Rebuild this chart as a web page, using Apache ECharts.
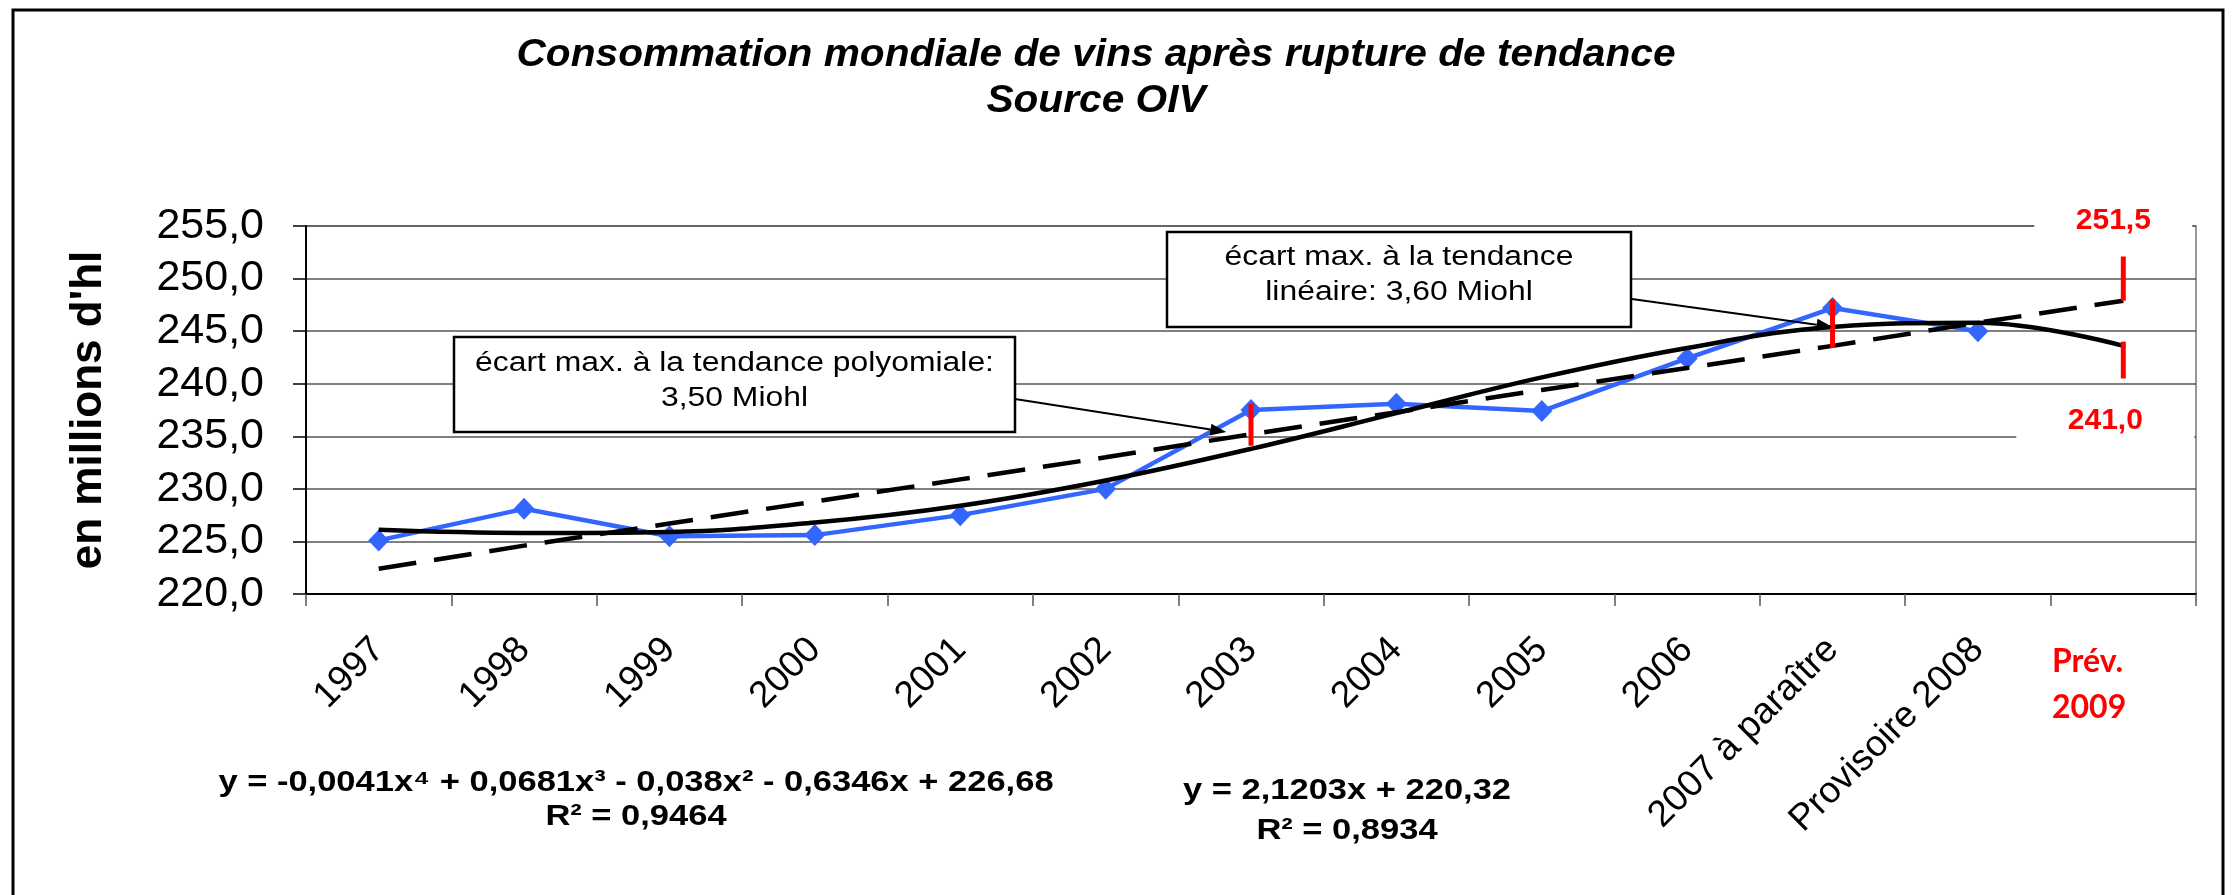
<!DOCTYPE html>
<html>
<head>
<meta charset="utf-8">
<script src="https://cdn.jsdelivr.net/npm/echarts@6/dist/echarts.min.js"></script>
<style>
html,body{margin:0;padding:0;background:#fff;}
#c{width:2235px;height:895px;}
</style>
</head>
<body>
<div id="c"></div>
<script>
// ---- data ----
const categories = ['1997','1998','1999','2000','2001','2002','2003','2004','2005','2006','2007 à paraître','Provisoire 2008','Prév. 2009'];
const consumption = [225.1, 228.1, 225.5, 225.6, 227.5, 230.0, 237.5, 238.1, 237.4, 242.4, 247.2, 245.0, null];
const polyTrend = [226.1, 225.8, 225.9, 226.8, 228.4, 230.8, 233.8, 237.2, 240.6, 243.4, 245.4, 245.8, 243.6];
const linearTrend = [222.4, 224.6, 226.7, 228.8, 230.9, 233.0, 235.2, 237.3, 239.4, 241.5, 243.6, 245.8, 247.9];
const gapIndex = [6, 10, 12, 12];
const gapLow = [234.1, 243.4, 247.9, 240.5];
const gapHigh = [238.1, 248.0, 252.1, 244.0];
const forecastLabels = ['251,5', '241,0'];
const yTickLabels = ['220,0','225,0','230,0','235,0','240,0','245,0','250,0','255,0'];
const titleLines = ['Consommation mondiale de vins après rupture de tendance', 'Source OIV'];
const yAxisTitle = "en millions d'hl";
const polyEq = ['y = -0,0041x⁴ + 0,0681x³ - 0,038x² - 0,6346x + 226,68', 'R² = 0,9464'];
const linEq = ['y = 2,1203x + 220,32', 'R² = 0,8934'];
const note1 = ['écart max. à la tendance polyomiale:', '3,50 Miohl'];
const note2 = ['écart max. à la tendance', 'linéaire: 3,60 Miohl'];

const FONT = '"Liberation Sans", Arial, sans-serif';
const chart = echarts.init(document.getElementById('c'), null, {renderer: 'canvas'});

const option = {
  animation: false,
  backgroundColor: '#fff',
  textStyle: {fontFamily: FONT},
  grid: {left: 306, top: 226, right: 39, bottom: 301, show: true, borderColor: '#777', borderWidth: 1.5, backgroundColor: 'transparent'},
  xAxis: {
    type: 'category', data: categories, boundaryGap: true,
    axisLine: {lineStyle: {color: '#000', width: 2}},
    axisTick: {show: true, length: 12, lineStyle: {color: '#555', width: 1.5}},
    axisLabel: {interval: 0, rotate: 45, margin: 50, fontSize: 37, color: '#000', fontFamily: FONT,
      formatter: (v, i) => i === categories.length - 1 ? '' : v},
    splitLine: {show: false}
  },
  yAxis: {
    type: 'value', min: 220, max: 255, interval: 5,
    axisLine: {show: true, lineStyle: {color: '#000', width: 2}},
    axisTick: {show: true, length: 13, lineStyle: {color: '#000', width: 1.5}},
    axisLabel: {margin: 42, fontSize: 43, color: '#000', fontFamily: FONT,
      formatter: v => yTickLabels[Math.round((v - 220) / 5)]},
    splitLine: {lineStyle: {color: '#555', width: 1.5}}
  },
  series: [
    {type: 'line', name: 'conso', data: consumption, symbol: 'diamond', symbolSize: [21, 22],
     lineStyle: {color: '#3366FF', width: 4.5}, itemStyle: {color: '#3366FF'}, z: 2},
    {type: 'line', name: 'poly', data: polyTrend, symbol: 'none', smooth: 0.4,
     lineStyle: {color: '#000', width: 4.5}, z: 3},
    {type: 'line', name: 'lin', data: linearTrend, symbol: 'none',
     lineStyle: {color: '#000', width: 4.5, type: [38, 18]}, z: 4},
    {type: 'custom', name: 'gaps', z: 6,
     data: gapIndex.map((c, i) => [c, gapLow[i], gapHigh[i]]),
     encode: {x: 0, y: [1, 2]},
     renderItem: (params, api) => {
       const a = api.coord([api.value(0), api.value(1)]);
       const b = api.coord([api.value(0), api.value(2)]);
       return {type: 'line', shape: {x1: a[0], y1: a[1], x2: b[0], y2: b[1]},
               style: {stroke: '#FF0000', lineWidth: 5}};
     }}
  ]
};
chart.setOption(option);

// ---- annotations ----
const px = (i, v) => chart.convertToPixel({xAxisIndex: 0, yAxisIndex: 0}, [i, v]);
const catW = px(1, 220)[0] - px(0, 220)[0];
function arrow(x1, y1, x2, y2) {
  const dx = x2 - x1, dy = y2 - y1, L = Math.hypot(dx, dy);
  const ux = dx / L, uy = dy / L, hl = 16, hw = 6;
  const bx = x2 - ux * hl, by = y2 - uy * hl;
  return [
    {type: 'line', z: 50, shape: {x1, y1, x2: bx, y2: by}, style: {stroke: '#000', lineWidth: 2}},
    {type: 'polygon', z: 50, shape: {points: [[x2, y2], [bx - uy * hw, by + ux * hw], [bx + uy * hw, by - ux * hw]]}, style: {fill: '#000'}}
  ];
}
function txt(x, y, text, size, opts) {
  opts = opts || {};
  return {type: 'text', x, y, z: 60, scaleX: opts.sx || 1,
    style: {text, fontSize: size, fontFamily: opts.family || FONT, fontWeight: opts.weight || 'normal',
      fontStyle: opts.style || 'normal', fill: opts.color || '#000', align: opts.align || 'center', verticalAlign: 'middle'}};
}
const tip1 = px(6, 235.4); tip1[0] -= 0.17 * catW;
const tip2 = px(10, 245.4);
const lblUp = px(12, 255.5); lblUp[0] -= 10;
const lblLo = px(12, 236.5); lblLo[0] -= 18;
const prev = categories[categories.length - 1].split(' ');

const g = [];
g.push({type: 'rect', z: 1, shape: {x: 13, y: 10, width: 2210, height: 1000}, style: {fill: 'none', stroke: '#000', lineWidth: 3}});
g.push(txt(1096, 56, titleLines[0], 38, {weight: 'bold', style: 'italic', sx: 1.07}));
g.push(txt(1096, 102, titleLines[1], 38, {weight: 'bold', style: 'italic', sx: 1.07}));
g.push(Object.assign(txt(89, 410, yAxisTitle, 44, {weight: 'bold'}), {rotation: Math.PI / 2}));
// note boxes
g.push({type: 'rect', z: 40, shape: {x: 454, y: 337, width: 561, height: 95}, style: {fill: '#fff', stroke: '#000', lineWidth: 2.5}});
g.push(txt(734.5, 364, note1[0], 27, {sx: 1.18}));
g.push(txt(734.5, 399, note1[1], 27, {sx: 1.18}));
g.push({type: 'rect', z: 40, shape: {x: 1167, y: 232, width: 464, height: 95}, style: {fill: '#fff', stroke: '#000', lineWidth: 2.5}});
g.push(txt(1399, 258, note2[0], 27, {sx: 1.18}));
g.push(txt(1399, 293, note2[1], 27, {sx: 1.18}));
g.push(...arrow(1015, 399, tip1[0], tip1[1]));
g.push(...arrow(1632, 299, tip2[0], tip2[1]));
// equations
g.push(txt(636, 783, polyEq[0], 30, {weight: 'bold', sx: 1.15}));
g.push(txt(636, 817, polyEq[1], 30, {weight: 'bold', sx: 1.15}));
g.push(txt(1347, 791, linEq[0], 30, {weight: 'bold', sx: 1.15}));
g.push(txt(1347, 831, linEq[1], 30, {weight: 'bold', sx: 1.15}));
// forecast category label
g.push(txt(2052, 662, prev[0], 32, {weight: 'bold', color: '#FF0000', align: 'left', family: 'Lato, "Noto Sans", sans-serif'}));
g.push(txt(2052, 708, prev[1], 32, {weight: 'bold', color: '#FF0000', align: 'left', family: 'Lato, "Noto Sans", sans-serif'}));
// forecast value labels with white backing
g.push({type: 'rect', z: 55, shape: {x: lblUp[0] - 79, y: lblUp[1] - 17, width: 158, height: 34}, style: {fill: '#fff'}});
g.push(txt(lblUp[0], lblUp[1], forecastLabels[0], 30, {weight: 'bold', color: '#FF0000'}));
g.push({type: 'rect', z: 55, shape: {x: lblLo[0] - 89, y: lblLo[1] - 17, width: 178, height: 36}, style: {fill: '#fff'}});
g.push(txt(lblLo[0], lblLo[1], forecastLabels[1], 30, {weight: 'bold', color: '#FF0000'}));

chart.setOption({graphic: {elements: g}});
</script>
</body>
</html>
